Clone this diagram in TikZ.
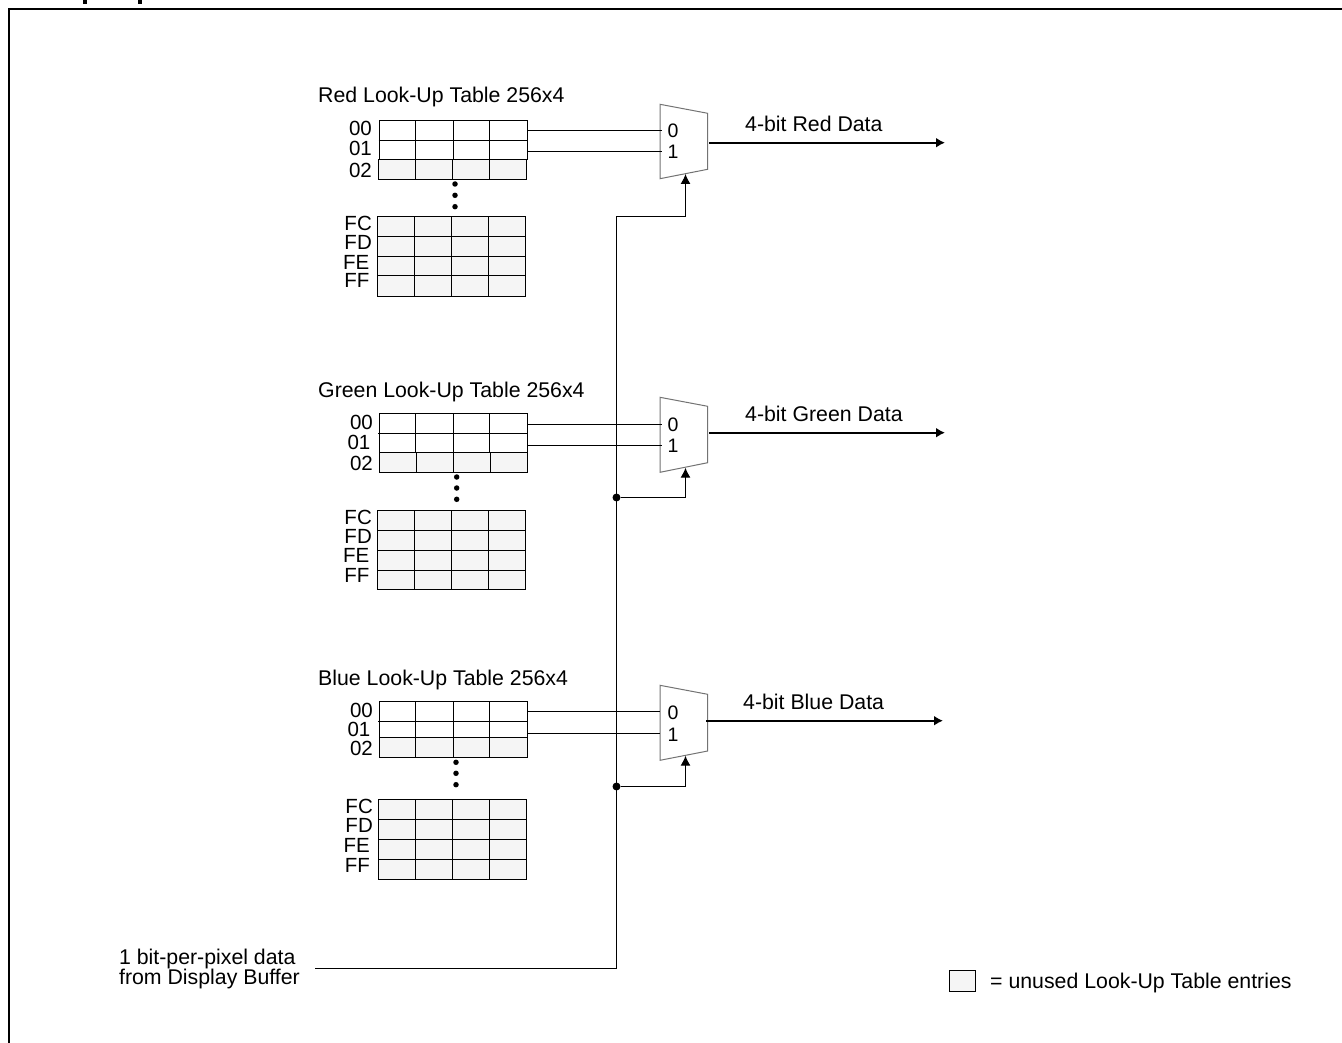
\documentclass[tikz,border=0pt]{standalone}
\usepackage{fontspec}
\setmainfont{Liberation Sans}
\usetikzlibrary{arrows.meta}
\tikzset{
	lutfree/.style={shape=rectangle, draw, line width=1.2pt, fill=white, inner sep=0pt},
	lutunused/.style={shape=rectangle, draw, line width=1.2pt, fill=black!4, inner sep=0pt},
	lutline/.style={line width=1.1pt},
	wire/.style={line width=1.1pt},
	wirearrow/.style={line width=1.1pt, -{Latex[length=10pt, width=10pt]}},
	outarrow/.style={line width=2.2pt, -{Latex[length=9pt, width=10pt]}},
	muxbody/.style={line width=1pt, draw=black!55, fill=white},
	junction/.style={shape=circle, fill=black, inner sep=0pt, minimum size=8pt},
	lutdot/.style={shape=circle, fill=black, inner sep=0pt, minimum size=5.5pt},
	caption/.style={anchor=base west, inner sep=0pt, font=\fontsize{21.3}{20}\selectfont},
	address/.style={anchor=base east, inner sep=0pt, font=\fontsize{20.5}{20}\selectfont},
	muxdigit/.style={anchor=center, inner sep=0pt, font=\fontsize{19.5}{20}\selectfont}
}
\begin{document}
\begin{tikzpicture}[x=1pt, y=-1pt]
	\useasboundingbox (0, 0) rectangle (1342, 1043);
	\draw[line width=2pt] (8.9, 1043) -- (8.9, 9) -- (1342, 9);
	\draw[line width=3.6pt] (85, 0) -- (85, 4);
	\draw[line width=3.6pt] (140, 0) -- (140, 4);

	% red table
	\node[caption] (redtitle) at (318, 103){Red Look-Up Table 256x4};
	\node[lutfree, minimum width=148.4pt, minimum height=38.6pt] (redtop) at (453.5, 140){};
	\node[lutunused, minimum width=148pt, minimum height=20pt] (redmid) at (452.7, 169.3){};
	\node[lutunused, minimum width=148pt, minimum height=80pt] (redlow) at (451.3, 256.3){};
	\draw[lutline] (378.5, 140.3) -- (527.7, 140.3) (415.7, 120.7) -- (415.7, 159.3) (453.7, 120.7) -- (453.7, 159.3) (489.3, 120.7) -- (489.3, 159.3);
	\draw[lutline] (415.3, 159.3) -- (415.3, 179.3) (452.3, 159.3) -- (452.3, 179.3) (489.3, 159.3) -- (489.3, 179.3);
	\draw[lutline] (377.3, 236.5) -- (525.3, 236.5) (377.3, 256.3) -- (525.3, 256.3) (377.3, 275.7) -- (525.3, 275.7) (414.3, 216.3) -- (414.3, 296.3) (451.7, 216.3) -- (451.7, 296.3) (488.7, 216.3) -- (488.7, 296.3);
	\node[lutdot] (reddota) at (455, 184){};
	\node[lutdot] (reddotb) at (455, 195.3){};
	\node[lutdot] (reddotc) at (455, 206.7){};
	\node[address] (redaddra) at (372, 135.5){00};
	\node[address] (redaddrb) at (372, 155.5){01};
	\node[address] (redaddrc) at (372, 177.5){02};
	\node[address] (redaddrd) at (372, 230.5){FC};
	\node[address] (redaddre) at (372, 249.5){FD};
	\node[address] (redaddrf) at (369.5, 269.5){FE};
	\node[address] (redaddrg) at (369.5, 287.5){FF};

	% green table
	\node[caption] (greentitle) at (318, 397){Green Look-Up Table 256x4};
	\node[lutfree, minimum width=148pt, minimum height=39pt] (greentop) at (453.3, 433.2){};
	\node[lutunused, minimum width=148pt, minimum height=19.6pt] (greenmid) at (453.3, 462.5){};
	\node[lutunused, minimum width=148pt, minimum height=79pt] (greenlow) at (451.3, 549.8){};
	\draw[lutline] (378.3, 433.3) -- (527.3, 433.3) (415.3, 413.7) -- (415.3, 452.7) (453.3, 413.7) -- (453.3, 452.7) (489.3, 413.7) -- (489.3, 452.7);
	\draw[lutline] (416.3, 452.7) -- (416.3, 472.3) (453.3, 452.7) -- (453.3, 472.3) (490.3, 452.7) -- (490.3, 472.3);
	\draw[lutline] (377.3, 530.3) -- (525.3, 530.3) (377.3, 550.3) -- (525.3, 550.3) (377.3, 570.3) -- (525.3, 570.3) (414.3, 510.3) -- (414.3, 589.3) (451.3, 510.3) -- (451.3, 589.3) (488.3, 510.3) -- (488.3, 589.3);
	\node[lutdot] (greendota) at (456.7, 477){};
	\node[lutdot] (greendotb) at (456.7, 488){};
	\node[lutdot] (greendotc) at (456.7, 499.3){};
	\node[address] (greenaddra) at (373, 429.2){00};
	\node[address] (greenaddrb) at (370.5, 449.2){01};
	\node[address] (greenaddrc) at (373, 470.2){02};
	\node[address] (greenaddrd) at (372, 524.2){FC};
	\node[address] (greenaddre) at (372, 543.5){FD};
	\node[address] (greenaddrf) at (369.5, 562.5){FE};
	\node[address] (greenaddrg) at (369.5, 582.5){FF};

	% blue table
	\node[caption] (bluetitle) at (318, 685){Blue Look-Up Table 256x4};
	\node[lutfree, minimum width=148pt, minimum height=36pt] (bluetop) at (453.3, 719.7){};
	\node[lutunused, minimum width=148pt, minimum height=19.6pt] (bluemid) at (453.3, 747.5){};
	\node[lutunused, minimum width=148.4pt, minimum height=80pt] (bluelow) at (452.5, 839.3){};
	\draw[lutline] (378.3, 721.3) -- (527.3, 721.3) (415.3, 701.7) -- (415.3, 737.7) (453.3, 701.7) -- (453.3, 737.7) (489.3, 701.7) -- (489.3, 737.7);
	\draw[lutline] (415.3, 737.7) -- (415.3, 757.3) (453.3, 737.7) -- (453.3, 757.3) (489.3, 737.7) -- (489.3, 757.3);
	\draw[lutline] (378.3, 819.3) -- (526.7, 819.3) (378.3, 839.3) -- (526.7, 839.3) (378.3, 859.3) -- (526.7, 859.3) (415.3, 799.3) -- (415.3, 879.3) (452.3, 799.3) -- (452.3, 879.3) (489.3, 799.3) -- (489.3, 879.3);
	\node[lutdot] (bluedota) at (456, 762.3){};
	\node[lutdot] (bluedotb) at (456, 773.3){};
	\node[lutdot] (bluedotc) at (456, 784.7){};
	\node[address] (blueaddra) at (373, 717.5){00};
	\node[address] (blueaddrb) at (370.5, 736.5){01};
	\node[address] (blueaddrc) at (373, 755.8){02};
	\node[address] (blueaddrd) at (373, 813.2){FC};
	\node[address] (blueaddre) at (373, 832.5){FD};
	\node[address] (blueaddrf) at (370, 852.5){FE};
	\node[address] (blueaddrg) at (370, 872.5){FF};

	% muxes
	\draw[muxbody] (660, 104.3) -- (707.7, 113.3) -- (707.7, 169.3) -- (660, 178.7) -- cycle;
	\draw[muxbody] (660, 397.3) -- (707.7, 406.3) -- (707.7, 462.7) -- (660, 472.3) -- cycle;
	\draw[muxbody] (660, 685.3) -- (707.7, 694.3) -- (707.7, 751) -- (660, 760.3) -- cycle;
	\node[muxdigit] (redzero) at (673, 130.7){0};
	\node[muxdigit] (redone) at (673, 152){1};
	\node[muxdigit] (greenzero) at (673, 424.3){0};
	\node[muxdigit] (greenone) at (673, 445.7){1};
	\node[muxdigit] (bluezero) at (673, 712.7){0};
	\node[muxdigit] (blueone) at (673, 735){1};
	\coordinate (redina) at (662, 130.5);
	\coordinate (redinb) at (662, 151.5);
	\coordinate (greenina) at (662, 424.5);
	\coordinate (greeninb) at (662, 445.5);
	\coordinate (blueina) at (660, 711.5);
	\coordinate (blueinb) at (660, 733.5);
	\draw[wire] (redtop.east |- redina) -- (redina);
	\draw[wire] (redtop.east |- redinb) -- (redinb);
	\draw[wire] (greentop.east |- greenina) -- (greenina);
	\draw[wire] (greentop.east |- greeninb) -- (greeninb);
	\draw[wire] (bluetop.east |- blueina) -- (blueina);
	\draw[wire] (bluetop.east |- blueinb) -- (blueinb);

	% outputs
	\coordinate (redout) at (709, 142.7);
	\coordinate (redend) at (945, 142.7);
	\coordinate (greenout) at (709.3, 432.7);
	\coordinate (greenend) at (945, 432.7);
	\coordinate (blueout) at (706, 720.7);
	\coordinate (blueend) at (943, 720.7);
	\draw[outarrow] (redout) -- (redend);
	\draw[outarrow] (greenout) -- (greenend);
	\draw[outarrow] (blueout) -- (blueend);
	\node[caption] (reddata) at (745, 132){4-bit Red Data};
	\node[caption] (greendata) at (745, 421){4-bit Green Data};
	\node[caption] (bluedata) at (743, 709){4-bit Blue Data};

	% select bus
	\node[anchor=east, align=left, inner ysep=0pt, inner xsep=15pt, font=\fontsize{21.3}{20}\selectfont] (source) at (315, 968.5){1 bit-per-pixel data\\from Display Buffer};
	\coordinate (bustop) at (616.5, 216.5);
	\coordinate (busend) at (616.5, 968.5);
	\node[junction] (greentap) at (616.5, 497.5){};
	\node[junction] (bluetap) at (616.5, 786.5){};
	\coordinate (redsel) at (685.5, 174);
	\coordinate (greensel) at (685.5, 467.7);
	\coordinate (bluesel) at (685.5, 755.7);
	\draw[wire] (source.east) -- (busend) -- (bustop);
	\draw[wirearrow] (bustop) -| (redsel);
	\draw[wirearrow] (greentap) -| (greensel);
	\draw[wirearrow] (bluetap) -| (bluesel);

	% legend
	\node[lutunused, minimum width=26.4pt, minimum height=21.4pt] (legendbox) at (962.5, 981){};
	\node[caption] (legendtext) at (990, 988){= unused Look-Up Table entries};
\end{tikzpicture}
\end{document}
